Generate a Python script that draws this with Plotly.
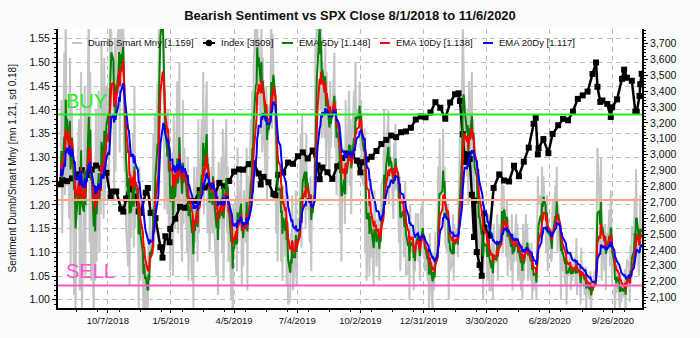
import pandas as pd
import plotly.graph_objects as go

# ---------------------------------------------------------------------------
# Dumb money / smart money ratio, daily, one list per month of business days
# ---------------------------------------------------------------------------
aug18 = [1.26, 1.42, 1.14, 1.52, 1.22, 1.66, 1.24, 1.42, 1.17, 1.51, 1.07, 1.43, 1.37, 1.01, 1.29, 0.95, 1.21, 1.25, 1.38, 1.02, 1.34, 1.48, 0.98]
sep18 = [1.15, 1.45, 1.05, 1.39, 1.25, 1.64, 1.12, 1.48, 1.04, 1.28, 0.94, 1.28, 1.04, 1.40, 1.08, 1.44, 1.10, 1.34, 1.18, 1.54]
oct18 = [1.17, 1.51, 1.21, 1.37, 1.45, 1.44, 1.24, 1.60, 1.68, 1.54, 1.47, 1.21, 1.55, 1.27, 1.51, 1.57, 1.61, 1.31, 1.65, 1.45, 1.61, 1.31, 1.27]
nov18 = [1.31, 1.15, 1.07, 1.33, 1.03, 1.27, 1.13, 1.35, 1.11, 1.45, 1.15, 1.23, 1.18, 0.98, 1.28, 1.04, 1.12, 1.04, 0.96, 1.12, 0.98, 1.06]
dec18 = [0.96, 1.12, 1.02, 1.22, 1.08, 1.15, 1.35, 1.11, 1.39, 1.31, 1.46, 1.32, 1.64, 1.56, 1.72, 1.66, 1.49, 1.35, 1.19, 1.31, 1.18]
jan19 = [1.40, 1.14, 1.30, 1.06, 1.31, 1.05, 1.39, 1.25, 1.15, 1.46, 1.14, 1.30, 1.50, 1.20, 1.08, 1.42, 1.16, 1.32, 1.28, 1.10, 1.30, 1.04, 1.24]
feb19 = [1.18, 1.04, 1.18, 0.98, 1.28, 1.12, 1.28, 1.08, 1.38, 1.14, 1.22, 1.38, 1.24, 1.48, 1.18, 1.32, 1.46, 1.14, 1.30, 1.20]
mar19 = [1.10, 1.28, 1.14, 1.38, 1.18, 1.14, 1.05, 1.25, 1.01, 1.29, 1.15, 1.30, 1.10, 1.36, 1.04, 1.24, 1.38, 1.14, 1.28, 1.08, 1.18]
apr19 = [1.00, 1.14, 0.94, 1.20, 1.10, 1.22, 1.06, 1.32, 1.12, 1.18, 1.27, 1.03, 1.19, 1.07, 1.23, 1.12, 1.32, 1.02, 1.26, 1.18, 1.38, 1.28]
may19 = [1.44, 1.30, 1.50, 1.61, 1.45, 1.69, 1.41, 1.55, 1.35, 1.59, 1.31, 1.51, 1.39, 1.25, 1.45, 1.21, 1.41, 1.35, 1.42, 1.62, 1.36, 1.56, 1.48]
jun19 = [1.34, 1.14, 1.28, 1.08, 1.22, 1.24, 1.08, 1.20, 1.04, 1.24, 1.09, 1.23, 1.03, 1.15, 0.99, 1.00, 1.14, 1.06, 1.22, 1.02]
jul19 = [1.09, 1.23, 1.03, 1.17, 1.13, 1.19, 1.35, 1.11, 1.39, 1.25, 1.31, 1.15, 1.35, 1.19, 1.25, 1.12, 1.26, 1.06, 1.22, 1.18, 1.31, 1.55, 1.51]
aug19 = [1.61, 1.55, 1.74, 1.40, 1.60, 1.34, 1.50, 1.34, 1.54, 1.28, 1.48, 1.38, 1.26, 1.46, 1.32, 1.42, 1.38, 1.52, 1.32, 1.42, 1.22, 1.38]
sep19 = [1.28, 1.14, 1.34, 1.08, 1.22, 1.32, 1.16, 1.42, 1.22, 1.28, 1.44, 1.24, 1.38, 1.18, 1.32, 1.44, 1.30, 1.50, 1.36, 1.40, 1.38]
oct19 = [1.46, 1.32, 1.42, 1.26, 1.24, 1.36, 1.10, 1.20, 1.04, 1.21, 1.05, 1.25, 1.09, 1.15, 1.03, 1.23, 1.11, 1.17, 1.07, 1.18, 1.04, 1.16, 1.12]
nov19 = [1.24, 1.26, 1.40, 1.20, 1.34, 1.30, 1.40, 1.20, 1.34, 1.26, 1.30, 1.17, 1.33, 1.23, 1.37, 1.25, 1.22, 1.12, 1.26, 1.06, 1.18]
dec19 = [1.21, 1.09, 1.15, 1.25, 1.05, 1.06, 1.14, 1.00, 1.20, 1.10, 1.14, 1.02, 1.10, 1.06, 1.18, 1.18, 1.08, 1.12, 1.04, 1.18, 1.21, 1.09]
jan20 = [1.14, 1.06, 1.10, 1.04, 1.10, 0.98, 1.14, 1.04, 0.98, 1.10, 1.02, 1.06, 1.14, 1.14, 1.28, 1.18, 1.34, 1.22, 1.24, 1.36, 1.16, 1.28, 1.12]
feb20 = [1.10, 1.20, 1.00, 1.14, 1.06, 1.08, 1.18, 1.04, 1.16, 1.12, 1.15, 1.09, 1.21, 1.25, 1.35, 1.45, 1.58, 1.50, 1.40, 1.35]
mar20 = [1.26, 1.40, 1.20, 1.46, 1.30, 1.48, 1.24, 1.38, 1.28, 1.18, 1.22, 1.12, 1.26, 1.06, 1.18, 1.06, 1.14, 1.00, 1.18, 1.10, 1.12, 1.04]
apr20 = [1.10, 1.18, 1.02, 1.02, 1.12, 1.00, 1.16, 1.08, 1.08, 1.18, 1.04, 1.16, 1.12, 1.16, 1.30, 1.10, 1.24, 1.20, 1.09, 1.21, 1.05, 1.17]
may20 = [1.12, 1.06, 1.18, 1.02, 1.14, 1.08, 1.18, 1.08, 1.16, 1.04, 1.12, 1.02, 1.12, 1.00, 1.16, 1.04, 1.18, 1.08, 1.16, 1.04, 1.12]
jun20 = [1.04, 1.12, 1.00, 1.08, 1.02, 1.06, 1.00, 1.14, 1.26, 1.20, 1.22, 1.14, 1.28, 1.18, 1.26, 1.16, 1.10, 1.22, 1.06, 1.14, 1.12, 1.08]
jul20 = [1.09, 1.21, 1.15, 1.24, 1.16, 1.28, 1.10, 1.20, 1.10, 1.00, 1.14, 1.06, 1.10, 1.03, 1.11, 0.99, 1.07, 1.05, 1.10, 1.02, 1.08, 1.04, 1.06]
aug20 = [1.09, 1.03, 1.13, 1.01, 1.07, 1.05, 0.99, 1.11, 1.03, 1.07, 1.01, 1.07, 0.97, 1.05, 1.03, 1.00, 1.06, 0.96, 1.04, 1.02, 1.06]
sep20 = [1.03, 1.07, 1.25, 1.32, 1.20, 1.10, 1.30, 1.04, 1.16, 1.06, 1.16, 1.02, 1.14, 1.10, 1.19, 1.07, 1.23, 1.11, 1.03, 1.03, 0.97, 1.05]
oct20 = [1.015, 1.075, 1.015, 0.975, 1.055, 0.995, 1.035, 1.005, 1.065, 0.965, 1.045, 1.085, 1.075, 0.995, 1.115, 1.035, 1.155, 1.135, 1.215, 1.075, 1.275, 1.175]
nov20 = [1.05, 1.08, 1.22, 1.13, 1.159]

ratio_months = [
    ("2018-08", aug18), ("2018-09", sep18), ("2018-10", oct18), ("2018-11", nov18), ("2018-12", dec18),
    ("2019-01", jan19), ("2019-02", feb19), ("2019-03", mar19), ("2019-04", apr19), ("2019-05", may19),
    ("2019-06", jun19), ("2019-07", jul19), ("2019-08", aug19), ("2019-09", sep19), ("2019-10", oct19),
    ("2019-11", nov19), ("2019-12", dec19), ("2020-01", jan20), ("2020-02", feb20), ("2020-03", mar20),
    ("2020-04", apr20), ("2020-05", may20), ("2020-06", jun20), ("2020-07", jul20), ("2020-08", aug20),
    ("2020-09", sep20), ("2020-10", oct20), ("2020-11", nov20),
]

# S&P 500 closes
spx_dates = [
    "2018-08-01", "2018-08-03", "2018-08-10", "2018-08-17", "2018-08-24", "2018-08-31", "2018-09-07",
    "2018-09-14", "2018-09-20", "2018-09-28", "2018-10-05", "2018-10-11", "2018-10-12", "2018-10-19",
    "2018-10-26", "2018-10-29", "2018-11-02", "2018-11-07", "2018-11-09", "2018-11-16", "2018-11-20",
    "2018-11-23", "2018-11-30", "2018-12-03", "2018-12-07", "2018-12-14", "2018-12-21", "2018-12-24",
    "2018-12-28", "2019-01-03", "2019-01-04", "2019-01-11", "2019-01-18", "2019-01-25", "2019-02-01",
    "2019-02-08", "2019-02-15", "2019-02-22", "2019-03-01", "2019-03-08", "2019-03-15", "2019-03-22",
    "2019-03-29", "2019-04-05", "2019-04-12", "2019-04-18", "2019-04-26", "2019-05-03", "2019-05-10",
    "2019-05-13", "2019-05-17", "2019-05-24", "2019-05-31", "2019-06-03", "2019-06-07", "2019-06-14",
    "2019-06-21", "2019-06-28", "2019-07-05", "2019-07-12", "2019-07-19", "2019-07-26", "2019-08-02",
    "2019-08-05", "2019-08-09", "2019-08-16", "2019-08-23", "2019-08-30", "2019-09-06", "2019-09-13",
    "2019-09-20", "2019-09-27", "2019-10-02", "2019-10-04", "2019-10-11", "2019-10-18", "2019-10-25",
    "2019-11-01", "2019-11-08", "2019-11-15", "2019-11-22", "2019-11-29", "2019-12-06", "2019-12-13",
    "2019-12-20", "2019-12-27", "2020-01-03", "2020-01-10", "2020-01-17", "2020-01-24", "2020-01-31",
    "2020-02-07", "2020-02-14", "2020-02-19", "2020-02-21", "2020-02-25", "2020-02-28", "2020-03-03",
    "2020-03-06", "2020-03-09", "2020-03-12", "2020-03-13", "2020-03-16", "2020-03-20", "2020-03-23",
    "2020-03-26", "2020-03-27", "2020-04-03", "2020-04-09", "2020-04-17", "2020-04-24", "2020-05-01",
    "2020-05-08", "2020-05-15", "2020-05-22", "2020-05-29", "2020-06-05", "2020-06-08", "2020-06-11",
    "2020-06-12", "2020-06-19", "2020-06-26", "2020-07-02", "2020-07-10", "2020-07-17", "2020-07-24",
    "2020-07-31", "2020-08-07", "2020-08-14", "2020-08-21", "2020-08-28", "2020-09-02", "2020-09-04",
    "2020-09-08", "2020-09-11", "2020-09-18", "2020-09-23", "2020-09-25", "2020-10-02", "2020-10-09",
    "2020-10-12", "2020-10-16", "2020-10-23", "2020-10-28", "2020-10-30", "2020-11-03", "2020-11-04",
    "2020-11-06",
]
spx_close = [
    2813, 2840, 2833, 2850, 2875, 2902, 2872,
    2905, 2931, 2914, 2886, 2729, 2767, 2768,
    2659, 2641, 2723, 2814, 2781, 2736, 2642,
    2633, 2760, 2790, 2633, 2600, 2417, 2351,
    2486, 2448, 2532, 2596, 2671, 2665, 2707,
    2708, 2776, 2793, 2804, 2743, 2822, 2801,
    2834, 2893, 2907, 2905, 2940, 2946, 2881,
    2812, 2860, 2826, 2752, 2744, 2873, 2887,
    2950, 2942, 2990, 3014, 2976, 3026, 2932,
    2845, 2919, 2889, 2847, 2926, 2979, 3007,
    2992, 2962, 2888, 2952, 2970, 2986, 3023,
    3067, 3093, 3120, 3110, 3141, 3146, 3169,
    3221, 3240, 3235, 3265, 3330, 3295, 3226,
    3328, 3380, 3386, 3338, 3128, 2954, 3003,
    2972, 2747, 2481, 2711, 2386, 2305, 2237,
    2630, 2541, 2489, 2790, 2875, 2837, 2831,
    2930, 2864, 2955, 3044, 3194, 3232, 3002,
    3041, 3098, 3009, 3130, 3185, 3225, 3216,
    3271, 3351, 3373, 3397, 3508, 3580, 3427,
    3332, 3341, 3319, 3237, 3298, 3348, 3477,
    3535, 3484, 3465, 3271, 3270, 3369, 3443,
    3509,
]

# Sentiment mean / standard deviation used for the signal bands
SENT_MEAN = 1.21
SENT_SD = 0.18
EMA_SPANS = [5, 10, 20]
EMA_COLORS = ["#008000", "#ff0000", "#0000ff"]

# ---------------------------------------------------------------------------
start, end = pd.Timestamp("2018-08-01"), pd.Timestamp("2020-11-06")
dates, ratio = [], []
for month, vals in ratio_months:
    m0 = pd.Timestamp(month + "-01")
    days = pd.bdate_range(max(m0, start), min(m0 + pd.offsets.MonthEnd(0), end))
    for d, v in zip(days, vals):
        dates.append(d)
        ratio.append(v)
ratio_s = pd.Series(ratio, index=pd.DatetimeIndex(dates))
emas = [ratio_s.ewm(span=n, adjust=False).mean() for n in EMA_SPANS]

# Plot-area frame in pixels
W, H = 700, 338
L, R, T, B = 58, 642, 29, 318


def fx(p):
    return (p - L) / (R - L)


def fy(p):
    return (B - p) / (B - T)


FONT = "Liberation Sans, Arial, sans-serif"
fig = go.Figure()

fig.add_trace(go.Scatter(x=ratio_s.index, y=ratio_s.values, mode="lines",
                         line=dict(color="#c4c4c4", width=2), yaxis="y",
                         showlegend=False, hoverinfo="skip"))
fig.add_trace(go.Scatter(x=pd.to_datetime(spx_dates), y=spx_close, mode="lines+markers",
                         line=dict(color="black", width=2.5),
                         marker=dict(color="black", size=6, symbol="square"),
                         yaxis="y2", showlegend=False))
for n, s, c in zip(EMA_SPANS, emas, EMA_COLORS):
    fig.add_trace(go.Scatter(x=s.index, y=s.values, mode="lines",
                             line=dict(color=c, width=2), yaxis="y3", showlegend=False))

buy_level = SENT_MEAN + SENT_SD
sell_level = SENT_MEAN - SENT_SD
shapes = []
for lvl, col in [(buy_level, "#22ee22"), (SENT_MEAN, "#ffa585"), (sell_level, "#ff55cc")]:
    shapes.append(dict(type="line", xref="paper", yref="y", x0=0, x1=1, y0=lvl, y1=lvl,
                       line=dict(color=col, width=2), layer="above"))

# Legend row
leg_y = fy(43.5)
legend_items = [
    (72, 82, "#c4c4c4", f"Dumb Smart Mny [{ratio_s.iloc[-1]:.3f}]", False),
    (203, 215, "black", f"Index [{spx_close[-1]:.0f}]", True),
    (282, 293, EMA_COLORS[0], f"EMA 5Dy [{emas[0].iloc[-1]:.3f}]", False),
    (380, 390, EMA_COLORS[1], f"EMA 10Dy [{emas[1].iloc[-1]:.3f}]", False),
    (483, 493, EMA_COLORS[2], f"EMA 20Dy [{emas[2].iloc[-1]:.3f}]", False),
]
annotations = []
for x0, x1, col, label, dot in legend_items:
    shapes.append(dict(type="line", xref="paper", yref="paper", x0=fx(x0), x1=fx(x1),
                       y0=leg_y, y1=leg_y, line=dict(color=col, width=2), layer="above"))
    if dot:
        xm = (x0 + x1) / 2
        shapes.append(dict(type="circle", xref="paper", yref="paper",
                           x0=fx(xm - 3), x1=fx(xm + 3), y0=fy(46.5), y1=fy(40.5),
                           fillcolor="black", line=dict(color="black", width=1), layer="above"))
    annotations.append(dict(text=label, xref="paper", yref="paper", x=fx(x1 + 4), y=leg_y,
                            xanchor="left", yanchor="middle", showarrow=False,
                            font=dict(family=FONT, size=9.5, color="#111111")))

annotations += [
    dict(text="BUY", xref="paper", yref="paper", x=fx(64), y=fy(104), xanchor="left",
         yanchor="middle", showarrow=False, font=dict(family=FONT, size=20, color="#22ee22")),
    dict(text="SELL", xref="paper", yref="paper", x=fx(64), y=fy(280), xanchor="left",
         yanchor="middle", showarrow=False, font=dict(family=FONT, size=20, color="#ff55cc")),
    dict(text="Sentiment Dumb/Smart Mny [mn 1.21, sd 0.18]", xref="paper", yref="paper",
         x=fx(12), y=0.5, textangle=-90, xanchor="center", yanchor="middle", showarrow=False,
         font=dict(family=FONT, size=10, color="#111111")),
]

day_ms = 86400000
fig.update_layout(
    width=W, height=H,
    margin=dict(l=L, r=W - R, t=T, b=H - B, pad=0),
    paper_bgcolor="#fbfbfb", plot_bgcolor="white",
    showlegend=False,
    title=dict(text="<b>Bearish Sentiment vs SPX Close 8/1/2018 to 11/6/2020</b>",
               x=0.5, xanchor="center", y=1 - 15 / H, yanchor="middle",
               font=dict(family=FONT, size=13, color="#111111")),
    xaxis=dict(type="date", range=["2018-07-28", "2020-11-06 12:00"],
               tick0="2018-10-07", dtick=90 * day_ms, tickformat="%-m/%-d/%Y",
               showgrid=True, gridcolor="#bdbdbd", griddash="5px,4px", gridwidth=1,
               showline=True, linecolor="black", linewidth=2,
               ticks="outside", ticklen=3, tickcolor="black",
               minor=dict(dtick=30 * day_ms, ticks="outside", ticklen=2, tickcolor="black", showgrid=False),
               tickfont=dict(family=FONT, size=9.5, color="#111111"), zeroline=False),
    yaxis=dict(range=[0.9827, 1.5703], tick0=1.0, dtick=0.05, tickformat=".2f",
               showgrid=True, gridcolor="#bdbdbd", griddash="5px,4px", gridwidth=1,
               showline=True, linecolor="black", linewidth=2,
               ticks="outside", ticklen=4, tickcolor="black",
               minor=dict(dtick=0.01, ticks="outside", ticklen=2, tickcolor="black", showgrid=False),
               tickfont=dict(family=FONT, size=10.5, color="#111111"), zeroline=False),
    yaxis2=dict(overlaying="y", side="right", range=[2034, 3791], tick0=2100, dtick=100,
                tickformat=",", showgrid=False, showline=True, linecolor="black", linewidth=2,
                ticks="outside", ticklen=4, tickcolor="black",
                minor=dict(dtick=20, ticks="outside", ticklen=2, tickcolor="black"),
                tickfont=dict(family=FONT, size=10.5, color="#111111"), zeroline=False),
    yaxis3=dict(overlaying="y", range=[0.9827, 1.5703], visible=False),
    shapes=shapes,
    annotations=annotations,
)

fig.write_html("out.html")
